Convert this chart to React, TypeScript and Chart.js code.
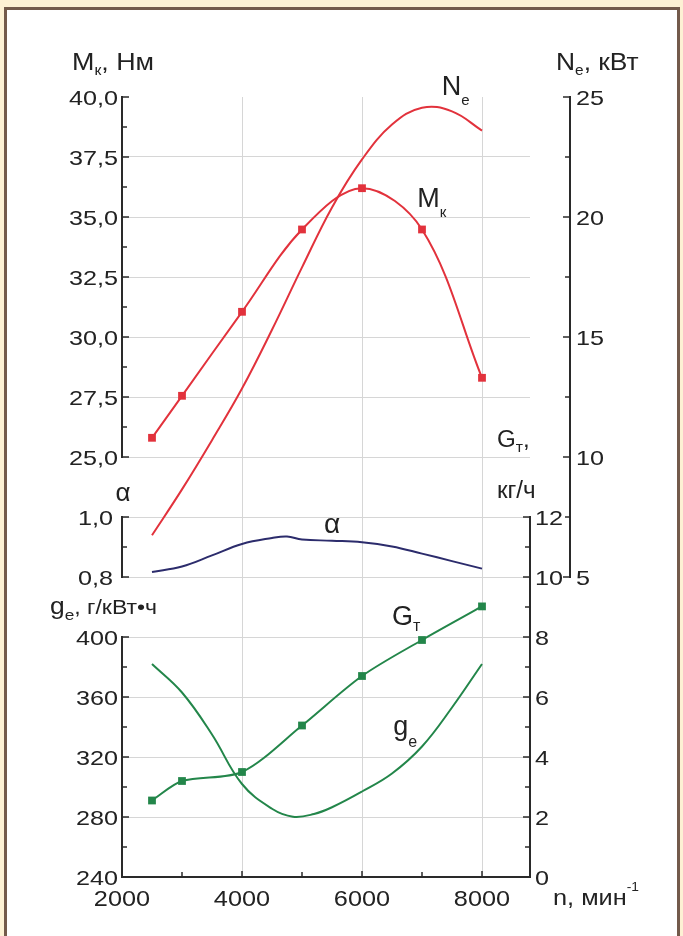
import React, { useEffect, useRef } from 'react';
import { Chart, registerables } from 'chart.js';

Chart.register(...registerables);

// ---------------- data ----------------
const RPM_MK = [2500, 3000, 4000, 5000, 6000, 7000, 8000];
const MK = [25.8, 27.55, 31.05, 34.48, 36.2, 34.48, 28.3];

const RPM_NE = [2500, 3000, 3500, 4000, 4500, 5000, 5500, 6000, 6500, 7000, 7500, 8000];
const NE = [6.74, 8.65, 10.7, 12.85, 15.3, 17.9, 20.4, 22.4, 23.85, 24.55, 24.4, 23.6];

const RPM_ALPHA = [2500, 3000, 3500, 4000, 4500, 4750, 5000, 5500, 6000, 6500, 7000, 7500, 8000];
const ALPHA = [0.817, 0.835, 0.872, 0.91, 0.93, 0.935, 0.925, 0.921, 0.916, 0.902, 0.878, 0.853, 0.828];

const RPM_GT = [2500, 3000, 4000, 5000, 6000, 7000, 8000];
const GT = [2.55, 3.2, 3.5, 5.05, 6.7, 7.9, 9.02];

const RPM_GE = [2500, 3000, 3500, 4000, 4500, 4850, 5200, 5500, 6000, 6500, 7000, 7500, 8000];
const GE = [382, 363, 335, 302, 285.5, 280.2, 282, 286.5, 297, 309, 327, 353, 382];

// tick values
const X_TICKS = [2000, 4000, 6000, 8000];
const MK_TICKS = [25, 27.5, 30, 32.5, 35, 37.5, 40];
const ALPHA_TICKS = [0.8, 1.0];
const GE_TICKS = [240, 280, 320, 360, 400];
const GT_TICKS = [0, 2, 4, 6, 8, 10, 12];
const NE_TICKS = [5, 10, 15, 20, 25];

// axis ranges (all y scales share the full plot height)
const X_RANGE = [2000, 8800];
const MK_RANGE = [7.5, 40];
const ALPHA_RANGE = [-0.2, 2.4];
const GE_RANGE = [240, 760];
const GT_RANGE = [0, 26];
const NE_RANGE = [-7.5, 25];

// ---------------- style ----------------
const FONT = '"Liberation Sans", Arial, Helvetica, sans-serif';
const INK = '#222222';
const AXIS = '#2a2a2a';
const GRID = '#d6d6d6';
const RED = '#e2323c';
const NAVY = '#2c2c6c';
const GREEN = '#23864a';

type Part = { t: string; s: number; dy?: number };

function drawParts(
  ctx: CanvasRenderingContext2D,
  parts: Part[],
  x: number,
  y: number,
  align: 'left' | 'right' | 'center' = 'left',
  stretch = 1
) {
  ctx.save();
  let total = 0;
  const widths = parts.map((p) => {
    ctx.font = `${p.s}px ${FONT}`;
    const w = ctx.measureText(p.t).width;
    total += w;
    return w;
  });
  let cx = align === 'left' ? 0 : align === 'right' ? -total : -total / 2;
  ctx.translate(x, y);
  ctx.scale(stretch, 1);
  ctx.fillStyle = INK;
  ctx.textAlign = 'left';
  ctx.textBaseline = 'alphabetic';
  parts.forEach((p, i) => {
    ctx.font = `${p.s}px ${FONT}`;
    ctx.fillText(p.t, cx, p.dy || 0);
    cx += widths[i];
  });
  ctx.restore();
}

const comma1 = (v: number) => v.toFixed(1).replace('.', ',');
const int = (v: number) => String(v);

const LABEL_SIZE = 21;
const LABEL_STRETCH = 1.2;

const V_AXES = [
  { id: 'yM', side: 'left', ticks: MK_TICKS, fmt: comma1, gap: 4 },
  { id: 'yA', side: 'left', ticks: ALPHA_TICKS, fmt: comma1, gap: 9 },
  { id: 'yg', side: 'left', ticks: GE_TICKS, fmt: int, gap: 4 },
  { id: 'yG', side: 'right', ticks: GT_TICKS, fmt: int, gap: 5 },
  { id: 'yN', side: 'right', ticks: NE_TICKS, fmt: int, gap: 6 },
];

const TITLES: { parts: Part[]; x: number; y: number; align?: 'left' | 'center'; stretch?: number }[] = [
  { parts: [{ t: 'M', s: 24 }, { t: 'к', s: 14, dy: 5 }, { t: ', Нм', s: 24 }], x: 72, y: 70, stretch: 1.12 },
  { parts: [{ t: 'N', s: 24 }, { t: 'e', s: 14, dy: 5 }, { t: ', кВт', s: 24 }], x: 556, y: 70, stretch: 1.1 },
  { parts: [{ t: 'α', s: 26 }], x: 123, y: 501, align: 'center' },
  { parts: [{ t: 'G', s: 23 }, { t: 'т', s: 15, dy: 5 }, { t: ',', s: 23 }], x: 497, y: 447, stretch: 1.05 },
  { parts: [{ t: 'кг/ч', s: 23 }], x: 497, y: 498, stretch: 1.05 },
  { parts: [{ t: 'g', s: 23 }, { t: 'e', s: 15, dy: 6 }, { t: ', г/кВт•ч', s: 20 }], x: 50, y: 614, stretch: 1.15 },
  { parts: [{ t: 'n, мин', s: 22 }, { t: '-1', s: 12, dy: -14 }], x: 553, y: 905, stretch: 1.15 },
];

// curve labels placed in data coordinates (x in rpm, y on the curve's own axis)
const CURVE_LABELS: { parts: Part[]; axis: string; x: number; y: number; align?: 'left' | 'center' }[] = [
  { parts: [{ t: 'N', s: 27 }, { t: 'e', s: 15, dy: 10 }], axis: 'yN', x: 7330, y: 25.1 },
  { parts: [{ t: 'M', s: 27 }, { t: 'к', s: 15, dy: 10 }], axis: 'yM', x: 6920, y: 35.4 },
  { parts: [{ t: 'α', s: 28 }], axis: 'yA', x: 5500, y: 0.947, align: 'center' },
  { parts: [{ t: 'G', s: 27 }, { t: 'т', s: 16, dy: 6 }], axis: 'yG', x: 6500, y: 8.4 },
  { parts: [{ t: 'g', s: 27 }, { t: 'e', s: 16, dy: 12 }], axis: 'yg', x: 6520, y: 335 },
];

const axesPlugin = {
  id: 'customAxes',
  afterDatasetsDraw(chart: any) {
    const { ctx, scales } = chart;
    ctx.save();
    ctx.strokeStyle = AXIS;
    ctx.lineCap = 'butt';

    // vertical axes
    V_AXES.forEach((def) => {
      const s = scales[def.id];
      const ax = def.side === 'left' ? s.right : s.left;
      const dir = def.side === 'left' ? 1 : -1;
      const vals = def.ticks;
      const p0 = s.getPixelForValue(vals[0]);
      const p1 = s.getPixelForValue(vals[vals.length - 1]);
      ctx.lineWidth = 2;
      ctx.beginPath();
      ctx.moveTo(ax, p0 + 1);
      ctx.lineTo(ax, p1 - 1);
      ctx.stroke();
      ctx.lineWidth = 1.5;
      vals.forEach((v, i) => {
        const y = s.getPixelForValue(v);
        ctx.beginPath();
        ctx.moveTo(ax, y);
        ctx.lineTo(ax + dir * 7, y);
        ctx.stroke();
        if (i < vals.length - 1) {
          const ym = s.getPixelForValue((v + vals[i + 1]) / 2);
          ctx.beginPath();
          ctx.moveTo(ax, ym);
          ctx.lineTo(ax + dir * 5, ym);
          ctx.stroke();
        }
        const lx = def.side === 'left' ? ax - def.gap : ax + def.gap;
        drawParts(ctx, [{ t: def.fmt(v), s: LABEL_SIZE }], lx, y + 7.5, def.side === 'left' ? 'right' : 'left', LABEL_STRETCH);
      });
    });

    // x axis
    const sx = scales.x;
    const y0 = sx.top;
    ctx.lineWidth = 2;
    ctx.beginPath();
    ctx.moveTo(sx.left - 1, y0);
    ctx.lineTo(sx.right, y0);
    ctx.stroke();
    ctx.lineWidth = 1.5;
    X_TICKS.forEach((v, i) => {
      const x = sx.getPixelForValue(v);
      ctx.beginPath();
      ctx.moveTo(x, y0);
      ctx.lineTo(x, y0 - 6);
      ctx.stroke();
      if (i < X_TICKS.length - 1) {
        const xm = sx.getPixelForValue((v + X_TICKS[i + 1]) / 2);
        ctx.beginPath();
        ctx.moveTo(xm, y0);
        ctx.lineTo(xm, y0 - 5);
        ctx.stroke();
      }
      drawParts(ctx, [{ t: int(v), s: 22 }], x, y0 + 29, 'center', 1.15);
    });

    TITLES.forEach((t) => drawParts(ctx, t.parts, t.x, t.y, t.align || 'left', t.stretch || 1));

    CURVE_LABELS.forEach((l) => {
      const px = sx.getPixelForValue(l.x);
      const py = scales[l.axis].getPixelForValue(l.y);
      drawParts(ctx, l.parts, px, py, l.align || 'left', 1);
    });

    ctx.restore();
  },
};

const toXY = (xs: number[], ys: number[]) => xs.map((x, i) => ({ x, y: ys[i] }));

const yScale = (pos: 'left' | 'right', range: number[], grid: number[] | null, width: number, weight: number) => ({
  type: 'linear',
  position: pos,
  min: range[0],
  max: range[1],
  weight,
  ticks: { display: false },
  border: { display: false },
  grid: grid
    ? { display: true, color: GRID, lineWidth: 1, drawTicks: false }
    : { display: false, drawTicks: false },
  afterBuildTicks: (s: any) => {
    s.ticks = (grid || []).map((v) => ({ value: v }));
  },
  afterFit: (s: any) => {
    s.width = width;
  },
});

export default function App() {
  const ref = useRef<HTMLCanvasElement | null>(null);

  useEffect(() => {
    if (!ref.current) return;
    const chart = new Chart(ref.current, {
      type: 'line',
      data: {
        datasets: [
          {
            data: toXY(RPM_MK, MK),
            yAxisID: 'yM',
            borderColor: RED,
            backgroundColor: RED,
            borderWidth: 2,
            pointStyle: 'rect',
            pointRadius: 5.5,
            pointBorderWidth: 0,
            tension: 0.35,
          },
          {
            data: toXY(RPM_NE, NE),
            yAxisID: 'yN',
            borderColor: RED,
            borderWidth: 2,
            pointRadius: 0,
            tension: 0.4,
          },
          {
            data: toXY(RPM_ALPHA, ALPHA),
            yAxisID: 'yA',
            borderColor: NAVY,
            borderWidth: 2,
            pointRadius: 0,
            tension: 0.4,
          },
          {
            data: toXY(RPM_GT, GT),
            yAxisID: 'yG',
            borderColor: GREEN,
            backgroundColor: GREEN,
            borderWidth: 2,
            pointStyle: 'rect',
            pointRadius: 5.5,
            pointBorderWidth: 0,
            tension: 0.3,
          },
          {
            data: toXY(RPM_GE, GE),
            yAxisID: 'yg',
            borderColor: GREEN,
            borderWidth: 2,
            pointRadius: 0,
            tension: 0.4,
          },
        ],
      } as any,
      options: {
        responsive: false,
        animation: false,
        devicePixelRatio: 1,
        layout: { padding: { left: 122, right: 113, top: 97, bottom: 59 } },
        plugins: { legend: { display: false }, tooltip: { enabled: false } },
        scales: {
          x: {
            type: 'linear',
            position: 'bottom',
            min: X_RANGE[0],
            max: X_RANGE[1],
            ticks: { display: false },
            border: { display: false },
            grid: { color: GRID, lineWidth: 1, drawTicks: false },
            afterBuildTicks: (s: any) => {
              s.ticks = X_TICKS.slice(1).map((v) => ({ value: v }));
            },
            afterFit: (s: any) => {
              s.height = 0;
            },
          },
          yM: yScale('left', MK_RANGE, MK_TICKS.slice(0, -1), 0, 0),
          yA: yScale('left', ALPHA_RANGE, ALPHA_TICKS, 0, 1),
          yg: yScale('left', GE_RANGE, GE_TICKS.slice(1), 0, 2),
          yG: yScale('right', GT_RANGE, null, 40, 0),
          yN: yScale('right', NE_RANGE, null, 0, 1),
        } as any,
      },
      plugins: [axesPlugin],
    });
    return () => chart.destroy();
  }, []);

  return (
    <div
      style={{
        position: 'absolute',
        left: 0,
        top: 0,
        width: 683,
        height: 936,
        overflow: 'hidden',
        background: '#fdf1d4',
      }}
    >
      <div
        style={{
          position: 'absolute',
          left: 4,
          top: 7,
          width: 676,
          height: 945,
          boxSizing: 'border-box',
          background: '#ffffff',
          border: '3px solid #735a4b',
        }}
      />
      <canvas ref={ref} width={683} height={936} style={{ position: 'absolute', left: 0, top: 0 }} />
    </div>
  );
}
